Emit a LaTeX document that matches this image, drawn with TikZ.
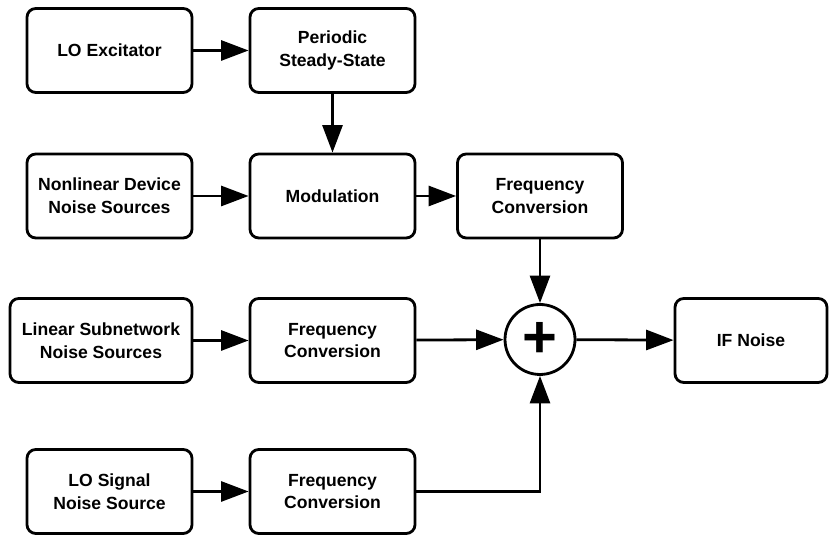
\documentclass[tikz,border=0pt]{standalone}
\usepackage{fontspec}
\setmainfont{Liberation Sans}
\usetikzlibrary{arrows.meta}

\begin{document}
\begin{tikzpicture}[auto,
    blk/.style={draw, line width=1.6pt, rounded corners=5pt, align=center,
      minimum width=3.3cm, minimum height=1.68cm,
      font=\fontsize{10}{13}\selectfont\bfseries},
    sum/.style={draw, circle, line width=1.6pt, minimum size=1.4cm, inner sep=0pt,
      font=\fontsize{34}{34}\selectfont\bfseries},
    flow/.style={line width=1.6pt, -{Triangle[length=0.55cm, width=0.4cm]}}]
    \useasboundingbox (0, 0) rectangle (16.6, 10.78);
    \node[blk] (lo) at (2.19, 9.77) {LO Excitator};
    \node[blk] (pss) at (6.65, 9.77) {Periodic\\Steady-State};
    \node[blk] (nl) at (2.19, 6.86) {Nonlinear Device\\Noise Sources};
    \node[blk] (mod) at (6.65, 6.86) {Modulation};
    \node[blk] (fc1) at (10.8, 6.86) {Frequency\\Conversion};
    \node[blk, minimum width=3.64cm] (lin) at (2.02, 3.97) {Linear Subnetwork\\Noise Sources};
    \node[blk] (fc2) at (6.65, 3.97) {Frequency\\Conversion};
    \node[sum] (s) at (10.8, 3.99) {+};
    \node[blk, minimum width=3.04cm] (ifn) at (15.02, 3.97) {IF Noise};
    \node[blk] (los) at (2.19, 0.95) {LO Signal\\Noise Source};
    \node[blk] (fc3) at (6.65, 0.95) {Frequency\\Conversion};
    \draw [flow] (lo) to (pss);
    \draw [flow] (pss) to (mod);
    \draw [flow] (nl) to (mod);
    \draw [flow] (mod) to (fc1);
    \draw [flow] (fc1) to (s);
    \draw [flow] (lin) to (fc2);
    \draw [flow] (fc2) to (s);
    \draw [flow] (s) to (ifn);
    \draw [flow] (los) to (fc3);
    \draw [flow] (fc3) -| (s);
  \end{tikzpicture}
\end{document}
